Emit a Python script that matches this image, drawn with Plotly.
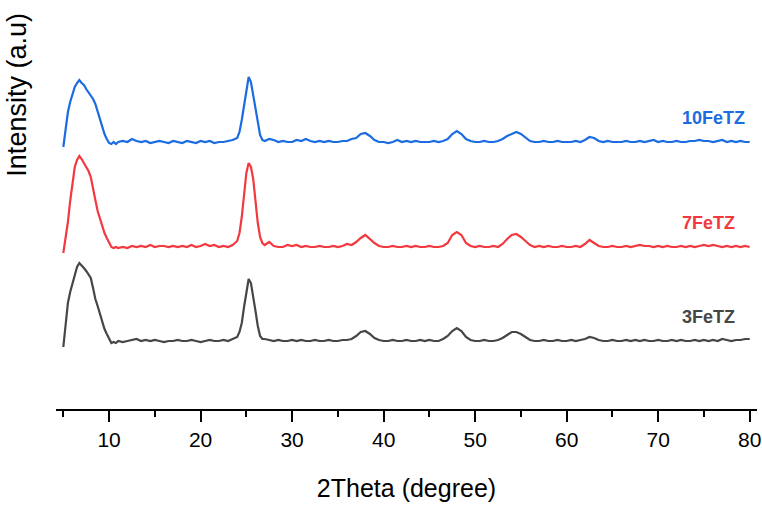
import plotly.graph_objects as go

# 2Theta sampling (degree)
theta_a = [5.0, 5.25, 5.5, 5.75, 6.0, 6.25, 6.5, 6.75, 7.0, 7.25, 7.5, 7.75, 8.0, 8.25, 8.5,
           8.75, 9.0, 9.25, 9.5, 9.75, 10.0, 10.25, 10.5, 10.75, 11.0]
theta_b = [11.5, 12.0, 12.5, 13.0, 13.5, 14.0, 14.5, 15.0, 15.5, 16.0, 16.5, 17.0, 17.5, 18.0,
           18.5, 19.0, 19.5, 20.0, 20.5, 21.0, 21.5, 22.0, 22.5, 23.0, 23.5]
theta_c = [24.0, 24.25, 24.5, 24.75, 25.0, 25.25, 25.5, 25.75, 26.0, 26.25, 26.5, 26.75, 27.0]
theta_d = [27.5, 28.0, 28.5, 29.0, 29.5, 30.0, 30.5, 31.0, 31.5, 32.0,
           32.5, 33.0, 33.5, 34.0, 34.5, 35.0, 35.5, 36.0, 36.5, 37.0,
           37.5, 38.0, 38.5, 39.0, 39.5, 40.0, 40.5, 41.0, 41.5, 42.0,
           42.5, 43.0, 43.5, 44.0, 44.5, 45.0, 45.5, 46.0, 46.5, 47.0,
           47.5, 48.0, 48.5, 49.0, 49.5, 50.0, 50.5, 51.0, 51.5, 52.0,
           52.5, 53.0, 53.5, 54.0, 54.5, 55.0, 55.5, 56.0, 56.5, 57.0,
           57.5, 58.0, 58.5, 59.0, 59.5, 60.0, 60.5, 61.0, 61.5, 62.0,
           62.5, 63.0, 63.5, 64.0, 64.5, 65.0, 65.5, 66.0, 66.5, 67.0,
           67.5, 68.0, 68.5, 69.0, 69.5, 70.0, 70.5, 71.0, 71.5, 72.0,
           72.5, 73.0, 73.5, 74.0, 74.5, 75.0, 75.5, 76.0, 76.5, 77.0,
           77.5, 78.0, 78.5, 79.0, 79.5, 80.0]

# 10FeTZ intensity (a.u., relative to its own baseline)
fe10_a = [-5, 14, 30, 40, 49, 55, 59, 62, 59, 57, 53, 50, 47, 43, 38, 30, 22, 15, 8, 3, -1, -2, 0, -2, 0]
fe10_b = [1, 0, 3, 1, 0, 1, -1, 0, 1, 0, -1, 1, 0, -1, 1, 0, -1, 1, 0, 1, -1, 0, 0, 1, 2]
fe10_c = [4, 10, 22, 38, 54, 65, 60, 47, 30, 17, 7, 2, 1]
fe10_d = [3, 2, 0, 1, 0, 0, 2, 1, 3, 1,
          0, 1, 0, 1, 0, 0, 1, 1, 3, 4,
          8, 9, 6, 2, 0, 0, -1, 0, 2, 0,
          1, 0, 1, 0, 0, 0, 1, 0, 1, 3,
          8, 11, 8, 3, 1, 0, 0, 1, 0, 0,
          1, 3, 6, 8, 10, 8, 4, 1, 0, 0,
          1, 0, 0, 1, 0, 0, 0, 1, 0, 2,
          5, 4, 1, 0, 1, 0, 0, 0, 1, 0,
          0, 1, 0, 1, 2, 0, 1, 0, 0, 1,
          0, 0, 1, 1, 2, 1, 1, 0, 1, 2,
          0, 1, 0, 1, 0, 0]

# 7FeTZ intensity
fe7_a = [-6, 8, 25, 46, 66, 80, 87, 91, 88, 84, 80, 76, 70, 60, 47, 36, 28, 20, 14, 9, 5, 0, -1, 0, -1]
fe7_b = [0, -1, 1, 0, 1, 0, 2, 0, 1, 1, 0, 1, 0, 1, 0, 2, 0, 1, 3, 1, 2, 0, 1, 0, 2]
fe7_c = [6, 14, 30, 55, 74, 84, 80, 68, 45, 24, 10, 4, 2]
fe7_d = [5, 1, 0, 0, 2, 1, 2, 0, 1, 0,
         0, 1, 0, 0, 1, 0, 1, 3, 2, 5,
         9, 12, 8, 4, 1, 0, 0, 1, 0, 0,
         1, 0, 1, 0, 0, 1, 0, 0, 1, 4,
         12, 15, 12, 4, 1, 0, 1, 0, 0, 1,
         0, 3, 8, 12, 13, 10, 6, 2, 0, 1,
         0, 1, 0, 0, 1, 0, 0, 1, 0, 3,
         7, 4, 1, 0, 0, 1, 0, 0, 1, 0,
         1, 2, 1, 1, 0, 1, 0, 1, 0, 0,
         1, 0, 1, 0, 1, 2, 1, 2, 1, 0,
         1, 0, 1, 0, 1, 0]

# 3FeTZ intensity
fe3_a = [-6, 18, 38, 49, 58, 67, 74, 78, 76, 73, 70, 67, 63, 53, 42, 35, 27, 19, 12, 7, 3, -2, -1, -2, 0]
fe3_b = [-1, 0, 1, 2, 0, 1, 0, 1, 0, -1, 0, 0, 1, 0, 0, 1, 0, -1, 0, 1, 0, 0, 1, 0, 2]
fe3_c = [4, 9, 18, 34, 50, 62, 58, 46, 30, 15, 5, 2, 2]
fe3_d = [1, 0, 1, 0, 0, 1, 0, 1, 0, 0,
         1, 0, 0, 1, 0, 0, 1, 1, 2, 5,
         9, 10, 7, 3, 1, 0, 0, 1, 0, 0,
         1, 0, 0, 1, 0, 1, 0, 0, 2, 5,
         10, 13, 10, 4, 1, 0, 0, 1, 0, 0,
         1, 3, 6, 9, 9, 7, 4, 1, 0, 0,
         1, 0, 0, 1, 0, 0, 1, 0, 1, 2,
         4, 3, 1, 0, 0, 1, 0, 0, 1, 0,
         1, 0, 1, 0, 0, 1, 0, 0, 1, 0,
         1, 0, 0, 1, 0, 1, 0, 1, 0, 2,
         1, 0, 1, 1, 2, 2]

theta = theta_a + theta_b + theta_c + theta_d
series_names = ["3FeTZ", "7FeTZ", "10FeTZ"]
series_values = [fe3_a + fe3_b + fe3_c + fe3_d,
                 fe7_a + fe7_b + fe7_c + fe7_d,
                 fe10_a + fe10_b + fe10_c + fe10_d]
series_offsets = [68, 162, 267]      # vertical stacking offsets (a.u.)
series_colors = ["#464646", "#f2393f", "#1a6ce0"]
label_y = [92, 186, 291]

FONT = "Liberation Sans, Arial, sans-serif"

fig = go.Figure()
for name, vals, off, col in zip(series_names, series_values, series_offsets, series_colors):
    fig.add_trace(go.Scatter(x=theta, y=[v + off for v in vals], mode="lines",
                             line=dict(color=col, width=2.2), name=name, showlegend=False))

for name, ly, col in zip(series_names, label_y, series_colors):
    fig.add_annotation(x=72.4, y=ly, xref="x", yref="y", text="<b>%s</b>" % name,
                       showarrow=False, xanchor="left", yanchor="middle",
                       font=dict(family=FONT, size=18, color=col))

fig.add_annotation(x=-0.056, y=0.90, xref="paper", yref="paper", text="Intensity (a.u)",
                   textangle=-90, showarrow=False, xanchor="center", yanchor="middle",
                   font=dict(family=FONT, size=27, color="black"))

fig.update_layout(
    template="none",
    width=762, height=508,
    margin=dict(l=56, r=5, t=60, b=99, autoexpand=False),
    paper_bgcolor="white", plot_bgcolor="white",
    font=dict(family=FONT, color="black"),
    xaxis=dict(range=[4.2, 80.8], tick0=0, dtick=10, showgrid=False, zeroline=False,
               automargin=False,
               showline=True, linecolor="black", linewidth=2,
               ticks="outside", ticklen=11, tickwidth=2, tickcolor="black",
               minor=dict(dtick=5, ticks="outside", ticklen=6, tickwidth=2, tickcolor="black"),
               tickfont=dict(family=FONT, size=21, color="black"),
               title=dict(text="2Theta (degree)", font=dict(family=FONT, size=25, color="black"),
                          standoff=29)),
    yaxis=dict(range=[0, 349], showgrid=False, zeroline=False, showline=False,
               automargin=False,
               showticklabels=False, ticks=""),
)

fig.write_html("out.html", config={"displayModeBar": False},
               post_script="document.body.style.margin='0px';document.body.style.padding='0px';")
